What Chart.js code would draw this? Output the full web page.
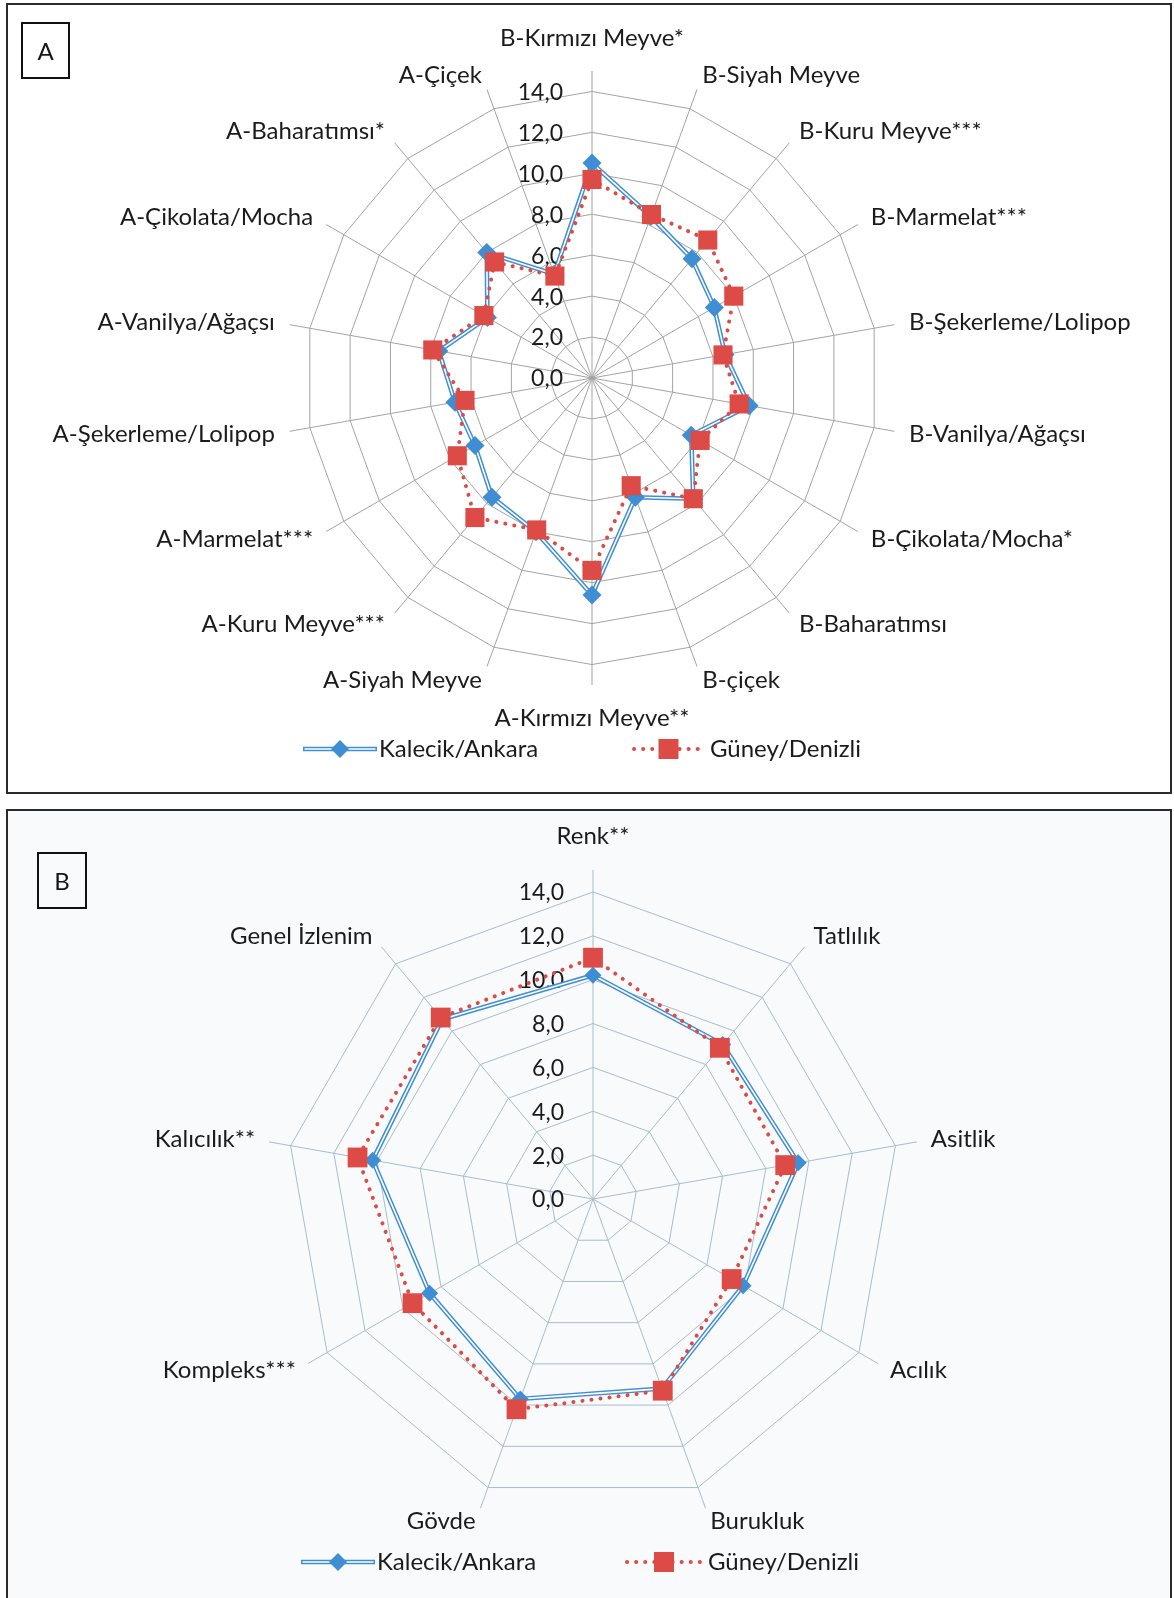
<!DOCTYPE html>
<html>
<head>
<meta charset="utf-8">
<script src="https://cdn.jsdelivr.net/npm/chart.js@4.4.1/dist/chart.umd.min.js"></script>
<style>
  html, body { margin: 0; padding: 0; background: #ffffff; }
  body { width: 1174px; height: 1598px; position: relative; overflow: hidden; font-family: Lato, "Open Sans", sans-serif; }
  .panel { position: absolute; box-sizing: border-box; border: 2px solid #2a2a2a; }
  #panelA { left: 6px; top: 3px; width: 1166px; height: 791px; background: #ffffff; }
  #panelB { left: 6px; top: 809px; width: 1166px; height: 800px; background: #f9fafc; }
  .tag { position: absolute; box-sizing: border-box; border: 2px solid #111111; font: 24px Lato, sans-serif; color: #151515;
         display: flex; align-items: center; justify-content: center; z-index: 3; }
  #tagA { left: 21px; top: 22px; width: 49px; height: 57px; }
  #tagB { left: 37px; top: 852px; width: 50px; height: 57px; }
  canvas { position: absolute; left: 0; z-index: 2; }
  #chartA { top: 0; }
  #chartB { top: 800px; }
</style>
</head>
<body>
<div class="panel" id="panelA"></div>
<div class="panel" id="panelB"></div>
<div class="tag" id="tagA">A</div>
<div class="tag" id="tagB">B</div>
<canvas id="chartA" width="1174" height="800"></canvas>
<canvas id="chartB" width="1174" height="798"></canvas>
<script>
// Series names
const seriesNames = ['Kalecik/Ankara', 'Güney/Denizli'];

// Aroma attributes (panel A), clockwise from the top
const aromaLabels = [
  'B-Kırmızı Meyve*', 'B-Siyah Meyve', 'B-Kuru Meyve***', 'B-Marmelat***',
  'B-Şekerleme/Lolipop', 'B-Vanilya/Ağaçsı', 'B-Çikolata/Mocha*', 'B-Baharatımsı',
  'B-çiçek', 'A-Kırmızı Meyve**', 'A-Siyah Meyve', 'A-Kuru Meyve***',
  'A-Marmelat***', 'A-Şekerleme/Lolipop', 'A-Vanilya/Ağaçsı', 'A-Çikolata/Mocha',
  'A-Baharatımsı*', 'A-Çiçek'
];
const kalecikAroma = [10.5, 8.4, 7.6, 6.9, 6.6, 7.8, 5.6, 7.7, 6.2, 10.6, 8.0, 7.6, 6.6, 6.8, 7.6, 5.9, 8.0, 5.4];
const guneyAroma   = [ 9.7, 8.5, 8.8, 8.0, 6.5, 7.3, 6.1, 7.7, 5.6,  9.4, 7.9, 8.9, 7.6, 6.3, 7.9, 6.1, 7.4, 5.3];

// Taste attributes (panel B), clockwise from the top
const tasteLabels = ['Renk**', 'Tatlılık', 'Asitlik', 'Acılık', 'Burukluk', 'Gövde', 'Kompleks***', 'Kalıcılık**', 'Genel İzlenim'];
const kalecikTaste = [10.2, 9.2, 9.5, 7.9, 9.2, 9.7, 8.6, 10.2, 10.7];
const guneyTaste   = [11.0, 9.0, 8.9, 7.3, 9.3, 10.2, 9.5, 10.9, 10.8];

// Radial axis: labelled rings 0..14, spokes run a little past the last ring
const tickValues = [0, 2, 4, 6, 8, 10, 12, 14];
const axisEnd = 15;

const BLUE = '#3f8ed3';
const RED = '#dd4b46';
const TEXT = '#1b1b1b';
const FONT = 'Lato, "Open Sans", sans-serif';

function fmt(v) { return v.toFixed(1).replace('.', ','); }

function drawDiamond(ctx, x, y, r) {
  ctx.beginPath();
  ctx.moveTo(x, y - r); ctx.lineTo(x + r, y); ctx.lineTo(x, y + r); ctx.lineTo(x - r, y);
  ctx.closePath(); ctx.fillStyle = BLUE; ctx.fill();
}

// Tick labels, category labels and the legend for each radar
const radarDecor = {
  id: 'radarDecor',
  beforeDatasetsDraw(chart, args, o) {
    const s = chart.scales.r, ctx = chart.ctx;
    ctx.save();
    ctx.font = o.tickSize + 'px ' + FONT;
    ctx.fillStyle = TEXT;
    ctx.textAlign = 'right';
    ctx.textBaseline = 'middle';
    tickValues.forEach(v => {
      const d = s.getDistanceFromCenterForValue(v);
      ctx.fillText(fmt(v), s.xCenter - o.tickOffset, s.yCenter - d + 1);
    });
    ctx.restore();
  },
  afterDraw(chart, args, o) {
    const s = chart.scales.r, ctx = chart.ctx;
    ctx.save();
    ctx.font = o.fontSize + 'px ' + FONT;
    ctx.fillStyle = TEXT;
    chart.data.labels.forEach((lab, i) => {
      const deg = ((s.getIndexAngle(i) * 180 / Math.PI) % 360 + 360) % 360;
      ctx.textBaseline = 'middle';
      const pole = Math.abs(deg) < 0.5 || Math.abs(deg - 360) < 0.5 || Math.abs(deg - 180) < 0.5;
      if (pole) {
        const p = s.getPointPosition(i, s.drawingArea + o.labelPad + o.poleExtra);
        ctx.textAlign = 'center';
        ctx.fillText(lab, p.x, p.y);
      } else {
        const p = s.getPointPosition(i, s.drawingArea + o.labelPad);
        ctx.textAlign = deg < 180 ? 'left' : 'right';
        ctx.fillText(lab, p.x, p.y);
      }
    });

    // legend
    const lg = o.legend;
    const y = lg.y;
    // Kalecik/Ankara: double blue line with a diamond
    ctx.lineCap = 'butt';
    ctx.strokeStyle = BLUE; ctx.lineWidth = 4.4;
    ctx.beginPath(); ctx.moveTo(lg.blue[0], y); ctx.lineTo(lg.blue[1], y); ctx.stroke();
    ctx.strokeStyle = '#ffffff'; ctx.lineWidth = 1.6;
    ctx.beginPath(); ctx.moveTo(lg.blue[0] + 1.5, y); ctx.lineTo(lg.blue[1] - 1.5, y); ctx.stroke();
    drawDiamond(ctx, (lg.blue[0] + lg.blue[1]) / 2, y, 9);
    ctx.fillStyle = TEXT; ctx.textAlign = 'left'; ctx.textBaseline = 'middle';
    ctx.fillText(chart.data.datasets[1].label, lg.blue[1] + 2, y);
    // Güney/Denizli: dotted red line with a square
    ctx.strokeStyle = RED; ctx.lineWidth = 4; ctx.lineCap = 'round';
    ctx.setLineDash([0.1, 9]);
    ctx.beginPath(); ctx.moveTo(lg.red[0], y); ctx.lineTo(lg.red[1], y); ctx.stroke();
    ctx.setLineDash([]);
    const cx = (lg.red[0] + lg.red[1]) / 2;
    ctx.fillStyle = RED; ctx.fillRect(cx - 10, y - 10, 20, 20);
    ctx.fillStyle = TEXT;
    ctx.fillText(chart.data.datasets[0].label, lg.red[1] + 7, y);
    ctx.restore();
  }
};

function buildDatasets(kalecik, guney, sq, dia) {
  return [
    { label: seriesNames[1], data: guney, borderColor: RED, borderWidth: 4, borderDash: [0.1, 9],
      borderCapStyle: 'round', fill: false, pointStyle: 'rect', pointRadius: sq,
      pointBackgroundColor: RED, pointBorderWidth: 0, order: 1 },
    { label: seriesNames[0], data: kalecik, showLine: false, fill: false, pointStyle: 'rectRot',
      pointRadius: dia, pointBackgroundColor: BLUE, pointBorderWidth: 0, order: 2 },
    { label: seriesNames[0], data: kalecik, borderColor: '#ffffff', borderWidth: 1.6, fill: false,
      pointRadius: 0, order: 3 },
    { label: seriesNames[0], data: kalecik, borderColor: BLUE, borderWidth: 4.6, fill: false,
      pointRadius: 0, order: 4 }
  ];
}

function radarScale(gridColor) {
  return {
    r: {
      min: 0, max: axisEnd,
      ticks: { display: false, stepSize: 2 },
      grid: { circular: false, lineWidth: 1,
              color: c => (c.tick && c.tick.value > tickValues[tickValues.length - 1]) ? 'rgba(0,0,0,0)' : gridColor },
      angleLines: { color: gridColor, lineWidth: 1 },
      pointLabels: { display: false }
    }
  };
}

Chart.defaults.font.family = FONT;

new Chart(document.getElementById('chartA'), {
  type: 'radar',
  data: { labels: aromaLabels, datasets: buildDatasets(kalecikAroma, guneyAroma, 13.5, 9.5) },
  options: {
    responsive: false, animation: false, devicePixelRatio: 1, events: [],
    layout: { padding: { left: 285, top: 71, right: 275, bottom: 115 } },
    scales: radarScale('#a3a3a3'),
    plugins: {
      legend: { display: false }, tooltip: { enabled: false },
      radarDecor: { fontSize: 24, tickSize: 23, tickOffset: 29, labelPad: 15, poleExtra: 18,
                    legend: { y: 749, blue: [303, 377], red: [634, 703] } }
    }
  },
  plugins: [radarDecor]
});

new Chart(document.getElementById('chartB'), {
  type: 'radar',
  data: { labels: tasteLabels, datasets: buildDatasets(kalecikTaste, guneyTaste, 14, 8.5) },
  options: {
    responsive: false, animation: false, devicePixelRatio: 1, events: [],
    layout: { padding: { left: 264, top: 70, right: 252, bottom: 70 } },
    scales: radarScale('#a9bcc8'),
    plugins: {
      legend: { display: false }, tooltip: { enabled: false },
      radarDecor: { fontSize: 24, tickSize: 23, tickOffset: 29, labelPad: 14, poleExtra: 20,
                    legend: { y: 762, blue: [301, 375], red: [627, 701] } }
    }
  },
  plugins: [radarDecor]
});
</script>
</body>
</html>
